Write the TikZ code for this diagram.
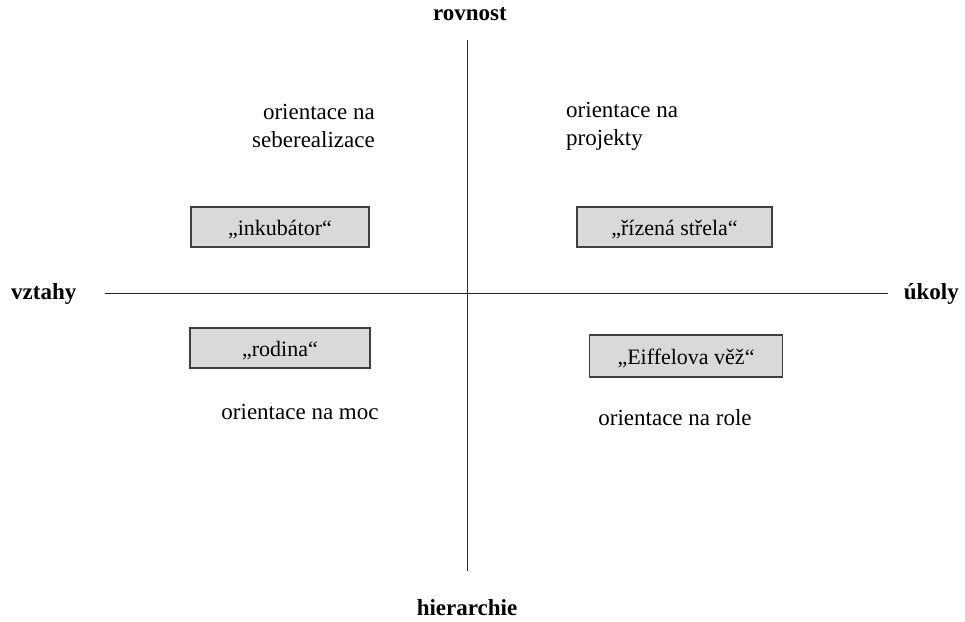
\documentclass[tikz,border=0pt]{standalone}
\usepackage{fontspec}
\setmainfont{Liberation Serif}
\usetikzlibrary{positioning}
\tikzset{
  quadbox/.style={rectangle, draw=black!75, line width=1.6pt, fill=black!15, inner sep=0pt, text centered, text height=20pt, text depth=4pt, minimum height=40pt, font=\fontsize{22}{24}\selectfont},
  axislabel/.style={inner sep=0pt, font=\fontsize{23}{26}\selectfont\bfseries},
  orient/.style={inner sep=0pt, font=\fontsize{23}{28}\selectfont},
  axisline/.style={draw=black!85, line width=0.9pt}
}
\begin{document}
\begin{tikzpicture}[x=1pt,y=-1pt]
\useasboundingbox (0,0) rectangle (965,621);
% axes
\coordinate (top) at (467,40);
\coordinate (bottom) at (467,571);
\coordinate (left) at (105,293);
\coordinate (right) at (888,293);
\draw[axisline] (top) -- (bottom);
\draw[axisline] (left) -- (right);
% axis labels
\node[axislabel] (rovnost) at (470,14) {rovnost};
\node[axislabel] (hierarchie) at (467,608) {hierarchie};
\node[axislabel, anchor=west] (vztahy) at (11,294) {vztahy};
\node[axislabel, anchor=east] (ukoly) at (959,294) {úkoly};
% quadrants
\node[orient, anchor=east, align=right] (seberealizace) at (375,126) {orientace na\\seberealizace};
\node[orient, anchor=west, align=left] (projekty) at (566,126) {orientace na\\projekty};
\node[orient] (moc) at (300,412) {orientace na moc};
\node[orient] (role) at (675,418) {orientace na role};
% boxes
\node[quadbox, minimum width=178pt] (inkubator) at (280,227) {„inkubátor“};
\node[quadbox, minimum width=195pt] (strela) at (674.5,227) {„řízená střela“};
\node[quadbox, minimum width=180pt] (rodina) at (280,348) {„rodina“};
\node[quadbox, minimum width=193pt, minimum height=42pt] (eiffel) at (686,356) {„Eiffelova věž“};
\end{tikzpicture}
\end{document}
